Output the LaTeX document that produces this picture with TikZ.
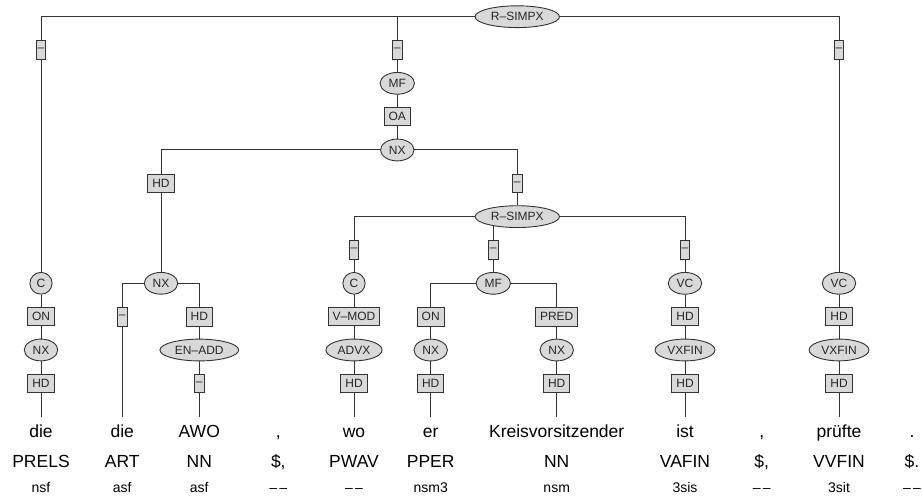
\documentclass[tikz,border=0pt]{standalone}
\usepackage{fontspec}
\setmainfont{Liberation Sans}
\usepackage{tikz}
\usetikzlibrary{shapes,positioning,backgrounds}
\definecolor{nodegray}{RGB}{217,217,217}
\definecolor{linegray}{RGB}{51,51,51}

\begin{document}
\begin{tikzpicture}[
    x=1pt, y=-1pt,
    node distance=33.33pt,
    on grid,
    cat/.style={ellipse, draw=linegray, fill=nodegray, line width=0.9pt, inner xsep=3.5pt, inner ysep=3.5pt, text height=8.4pt, text depth=0pt, font=\fontsize{12}{12}\selectfont, text=black!85},
    lab/.style={rectangle, draw=linegray, fill=nodegray, line width=0.9pt, inner xsep=4.5pt, minimum height=18.5pt, font=\fontsize{12}{12}\selectfont, text=black!85},
    nolab/.style={lab, inner xsep=1.5pt},
    word/.style={anchor=base, inner xsep=0pt, inner ysep=7.3pt, text height=13pt, text depth=0pt, font=\fontsize{17.5}{20}\selectfont},
    tag/.style={anchor=base, inner sep=0pt, font=\fontsize{17.5}{20}\selectfont},
    morph/.style={anchor=base, inner sep=0pt, font=\fontsize{14}{16}\selectfont},
    edge/.style={draw=linegray, line width=1pt}
]
\useasboundingbox (0,0) rectangle (922,500);

% top clause
\node[cat] (rsimpx) at (517.3,16.7) {R–SIMPX};
\node[nolab] (l-rel) at (41,50) {–};
\node[nolab] (l-mf) at (397.3,50) {–};
\node[nolab] (l-vc) at (839,50) {–};

% middle field
\node[cat, below=of l-mf] (mf) {MF};
\node[lab, below=of mf] (oa) {OA};
\node[cat, below=of oa] (nx) {NX};
\node[lab] (hd-nx) at (161,183.3) {HD};
\node[nolab] (l-rs) at (517.3,183.3) {–};
\node[cat, below=of l-rs] (rsimpx2) {R–SIMPX};

% inner NX
\node[cat] (nx2) at (161,283.3) {NX};
\node[nolab] (l-art) at (122.3,316.7) {–};
\node[lab] (hd-awo) at (199.3,316.7) {HD};
\node[cat, below=of hd-awo] (enadd) {EN–ADD};
\node[nolab, below=of enadd] (l-awo) {–};

% relative clause
\node[nolab] (l-c) at (354,250) {–};
\node[cat, below=of l-c] (c2) {C};
\node[lab, below=of c2] (vmod) {V–MOD};
\node[cat, below=of vmod] (advx) {ADVX};
\node[lab, below=of advx] (hd-wo) {HD};

\node[nolab] (l-mf2) at (493.3,250) {–};
\node[cat, below=of l-mf2] (mf2) {MF};
\node[lab] (on2) at (430.7,316.7) {ON};
\node[cat, below=of on2] (nx-er) {NX};
\node[lab, below=of nx-er] (hd-er) {HD};
\node[lab] (pred) at (556.7,316.7) {PRED};
\node[cat, below=of pred] (nx-kv) {NX};
\node[lab, below=of nx-kv] (hd-kv) {HD};

\node[nolab] (l-vc2) at (685,250) {–};
\node[cat, below=of l-vc2] (vc2) {VC};
\node[lab, below=of vc2] (hd-vc2) {HD};
\node[cat, below=of hd-vc2] (vxfin2) {VXFIN};
\node[lab, below=of vxfin2] (hd-ist) {HD};

% outer columns
\node[cat] (c1) at (41,283.3) {C};
\node[lab, below=of c1] (on1) {ON};
\node[cat, below=of on1] (nx1) {NX};
\node[lab, below=of nx1] (hd-die) {HD};

\node[cat] (vc1) at (839,283.3) {VC};
\node[lab, below=of vc1] (hd-vc1) {HD};
\node[cat, below=of hd-vc1] (vxfin1) {VXFIN};
\node[lab, below=of vxfin1] (hd-pr) {HD};

% words
\node[word] (w-die) at (41,437) {die};
\node[word] (w-art) at (122.3,437) {die};
\node[word] (w-awo) at (199.3,437) {AWO};
\node[word] (w-c1) at (278.3,437) {,};
\node[word] (w-wo) at (354,437) {wo};
\node[word] (w-er) at (430.7,437) {er};
\node[word] (w-kv) at (556.7,437) {Kreisvorsitzender};
\node[word] (w-ist) at (685,437) {ist};
\node[word] (w-c2) at (761.7,437) {,};
\node[word] (w-pr) at (839,437) {prüfte};
\node[word] (w-pt) at (912,437) {.};

% tags
\node[tag] (t-die) at (41,467) {PRELS};
\node[tag] (t-art) at (122.3,467) {ART};
\node[tag] (t-awo) at (199.3,467) {NN};
\node[tag] (t-c1) at (278.3,467) {\$,};
\node[tag] (t-wo) at (354,467) {PWAV};
\node[tag] (t-er) at (430.7,467) {PPER};
\node[tag] (t-kv) at (556.7,467) {NN};
\node[tag] (t-ist) at (685,467) {VAFIN};
\node[tag] (t-c2) at (761.7,467) {\$,};
\node[tag] (t-pr) at (839,467) {VVFIN};
\node[tag] (t-pt) at (912,467) {\$.};

% morphology
\node[morph] (m-die) at (41,492) {nsf};
\node[morph] (m-art) at (122.3,492) {asf};
\node[morph] (m-awo) at (199.3,492) {asf};
\node[morph] (m-c1) at (278.3,492) {–\,–};
\node[morph] (m-wo) at (354,492) {–\,–};
\node[morph] (m-er) at (430.7,492) {nsm3};
\node[morph] (m-kv) at (556.7,492) {nsm};
\node[morph] (m-ist) at (685,492) {3sis};
\node[morph] (m-c2) at (761.7,492) {–\,–};
\node[morph] (m-pr) at (839,492) {3sit};
\node[morph] (m-pt) at (912,492) {–\,–};

\begin{scope}[on background layer]
\draw[edge] (rsimpx) -| (l-rel);
\draw[edge] (rsimpx) -| (l-mf);
\draw[edge] (rsimpx) -| (l-vc);
\draw[edge] (l-rel) -- (c1) -- (on1) -- (nx1) -- (hd-die) -- (w-die.north);
\draw[edge] (l-vc) -- (vc1) -- (hd-vc1) -- (vxfin1) -- (hd-pr) -- (w-pr.north);
\draw[edge] (l-mf) -- (mf) -- (oa) -- (nx);
\draw[edge] (nx) -| (hd-nx);
\draw[edge] (nx) -| (l-rs);
\draw[edge] (hd-nx) -- (nx2);
\draw[edge] (l-rs) -- (rsimpx2);
\draw[edge] (nx2) -| (l-art);
\draw[edge] (nx2) -| (hd-awo);
\draw[edge] (l-art) -- (w-art.north);
\draw[edge] (hd-awo) -- (enadd) -- (l-awo) -- (w-awo.north);
\draw[edge] (rsimpx2) -| (l-c);
\draw[edge] (rsimpx2) -| (l-mf2);
\draw[edge] (rsimpx2) -| (l-vc2);
\draw[edge] (l-c) -- (c2) -- (vmod) -- (advx) -- (hd-wo) -- (w-wo.north);
\draw[edge] (l-mf2) -- (mf2);
\draw[edge] (mf2) -| (on2);
\draw[edge] (mf2) -| (pred);
\draw[edge] (on2) -- (nx-er) -- (hd-er) -- (w-er.north);
\draw[edge] (pred) -- (nx-kv) -- (hd-kv) -- (w-kv.north);
\draw[edge] (l-vc2) -- (vc2) -- (hd-vc2) -- (vxfin2) -- (hd-ist) -- (w-ist.north);
\end{scope}

\end{tikzpicture}
\end{document}
